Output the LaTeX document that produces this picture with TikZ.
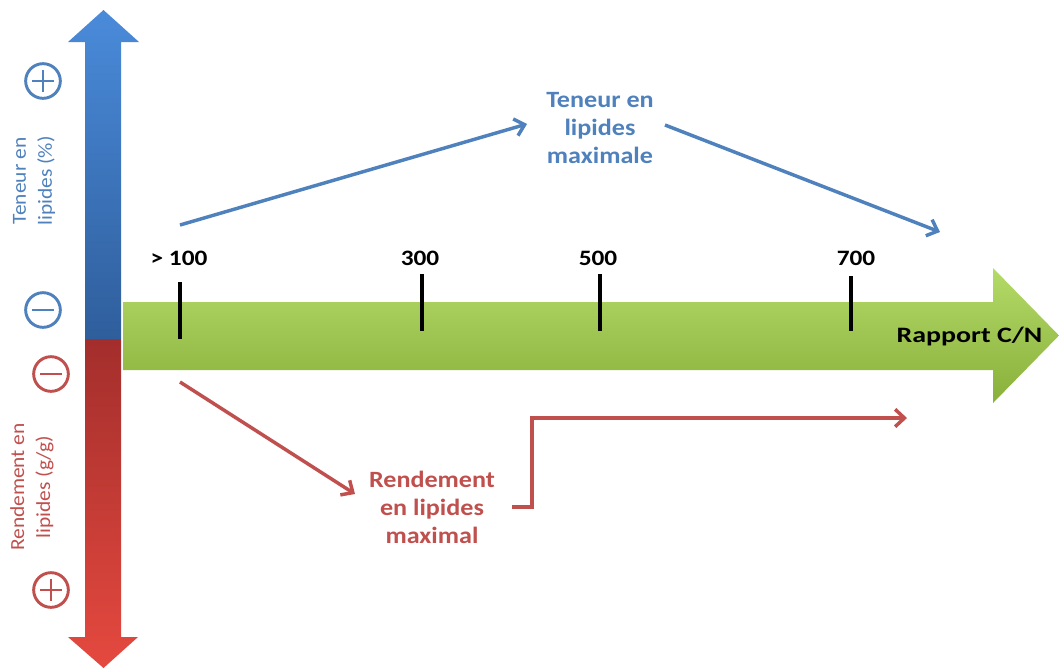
\documentclass[tikz,border=0pt]{standalone}
\usepackage{fontspec}
\setmainfont{Carlito}
\newfontfamily\widefont[FakeStretch=1.12]{Carlito}
\newfontfamily\tickfont[FakeStretch=1.15]{Carlito}
\newfontfamily\cnfont[FakeStretch=1.27]{Carlito}
\newfontfamily\vfont[FakeStretch=1.07]{Carlito}
\usetikzlibrary{arrows.meta}
\definecolor{tblue}{HTML}{4F81BD}
\definecolor{tred}{HTML}{C0504D}
\definecolor{blueTop}{HTML}{4A8BDA}
\definecolor{blueBot}{HTML}{2F5E9C}
\definecolor{redTop}{HTML}{A32E2C}
\definecolor{redBot}{HTML}{E5493F}
\definecolor{greenTop}{HTML}{B4DA68}
\definecolor{greenBot}{HTML}{88B03A}
\begin{document}
\begin{tikzpicture}[x=0.75pt,y=-0.75pt,
  bigtxt/.style={align=center,font=\widefont\bfseries\fontsize{17.5}{21}\selectfont},
  vtxt/.style={align=center,rotate=90,font=\vfont\fontsize{15}{19.5}\selectfont},
  ticklbl/.style={font=\tickfont\bfseries\fontsize{16.5}{19}\selectfont,text=black},
  cnlbl/.style={font=\cnfont\bfseries\fontsize{16.5}{19}\selectfont,text=black},
  tickmark/.style={line width=3pt,black},
  sym/.style={circle,draw,line width=2.2pt,minimum size=26pt,inner sep=0pt},
  symline/.style={line width=2.2pt},
  barb/.style={line width=2.6pt,-{Straight Barb[length=7pt,width=13pt,line width=2.6pt]}}
]
\useasboundingbox (0,0) rectangle (1059,668);
% vertical axis arrow (blue upper, red lower)
\shade[top color=blueTop,bottom color=blueBot]
  (85,339) -- (85,42) -- (68,42) -- (103.5,10) -- (139,42) -- (121,42) -- (121,339) -- cycle;
\shade[top color=redTop,bottom color=redBot]
  (85,339) -- (85,637) -- (68,637) -- (103.5,668) -- (138,637) -- (121,637) -- (121,339) -- cycle;
% green C/N arrow
\shade[top color=greenTop,bottom color=greenBot]
  (123,302) -- (993,302) -- (993,268) -- (1059,335.5) -- (993,403) -- (993,370) -- (123,370) -- cycle;
% plus / minus symbols
\node (bplus) [sym,draw=tblue] at (43,81) {};
\draw[symline,tblue] (bplus.center) ++(-11,0) -- ++(22,0) (bplus.center) ++(0,-11) -- ++(0,22);
\node (bminus) [sym,draw=tblue] at (43,310) {};
\draw[symline,tblue] (bminus.center) ++(-11,0) -- ++(22,0);
\node (rminus) [sym,draw=tred] at (51,374) {};
\draw[symline,tred] (rminus.center) ++(-11,0) -- ++(22,0);
\node (rplus) [sym,draw=tred] at (51,590) {};
\draw[symline,tred] (rplus.center) ++(-11,0) -- ++(22,0) (rplus.center) ++(0,-11) -- ++(0,22);
% vertical labels
\node (vblue) [vtxt,text=tblue] at (34,181) {Teneur en\\lipides (\%)};
\node (vred) [vtxt,text=tred] at (32,487) {Rendement en\\lipides (g/g)};
% ticks
\draw[tickmark] (180,282) -- (180,339);
\draw[tickmark] (422,274) -- (422,331);
\draw[tickmark] (600,274) -- (600,331);
\draw[tickmark] (851,276) -- (851,331);
\node (t100) [ticklbl] at (179,258) {> 100};
\node (t300) [ticklbl] at (420,258) {300};
\node (t500) [ticklbl] at (598,258) {500};
\node (t700) [ticklbl] at (856,258) {700};
\node (cn) [cnlbl,anchor=east] at (1047,337) {Rapport C/N};
% blue maximum
\node (tmax) [bigtxt,text=tblue] at (600,128) {Teneur en\\lipides\\maximale};
\coordinate (b1) at (180,225);
\coordinate (b2) at (527,124);
\coordinate (b3) at (665,125);
\coordinate (b4) at (940,232);
\draw[barb,tblue] (b1) -- (b2);
\draw[barb,tblue] (b3) -- (b4);
% red maximum
\node (rmax) [bigtxt,text=tred] at (432,507) {Rendement\\en lipides\\maximal};
\coordinate (r1) at (180,382);
\coordinate (r2) at (355,494);
\coordinate (r3) at (512,507);
\coordinate (r4) at (907,418);
\draw[barb,tred] (r1) -- (r2);
\draw[barb,tred] (r3) -- (532,507) -- (532,418) -- (r4);
\end{tikzpicture}
\end{document}
